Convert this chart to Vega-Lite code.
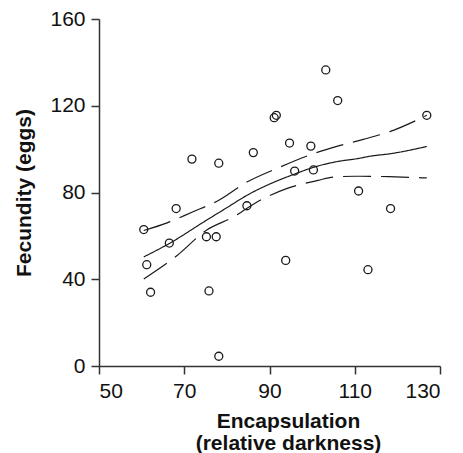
{
  "$schema": "https://vega.github.io/schema/vega-lite/v6.json",
  "autosize": {"type": "none"},
  "width": 341,
  "height": 347,
  "padding": {"left": 99, "top": 19, "right": 23, "bottom": 87},
  "background": "white",
  "config": {
    "view": {"stroke": null},
    "font": "Liberation Sans",
    "axis": {
      "grid": false,
      "domainColor": "#333333",
      "tickColor": "#333333",
      "domainWidth": 1.5,
      "tickWidth": 1.5,
      "tickSize": 8,
      "labelFont": "Liberation Sans",
      "labelFontSize": 21,
      "labelColor": "#111111",
      "titleFont": "Liberation Sans",
      "titleFontSize": 21,
      "titleFontWeight": "bold",
      "titleColor": "#111111"
    }
  },
  "datasets": {
    "points": [
      {"encapsulation": 60.5, "fecundity": 62.9},
      {"encapsulation": 61.2, "fecundity": 46.7},
      {"encapsulation": 62.1, "fecundity": 34.0},
      {"encapsulation": 66.5, "fecundity": 56.7},
      {"encapsulation": 68.1, "fecundity": 72.6},
      {"encapsulation": 71.8, "fecundity": 95.4},
      {"encapsulation": 75.2, "fecundity": 59.6},
      {"encapsulation": 75.8, "fecundity": 34.6},
      {"encapsulation": 77.5, "fecundity": 59.6},
      {"encapsulation": 78.1, "fecundity": 93.5},
      {"encapsulation": 78.1, "fecundity": 4.5},
      {"encapsulation": 84.7, "fecundity": 73.9},
      {"encapsulation": 86.2, "fecundity": 98.4},
      {"encapsulation": 91.1, "fecundity": 114.5},
      {"encapsulation": 91.6, "fecundity": 115.6},
      {"encapsulation": 93.8, "fecundity": 48.7},
      {"encapsulation": 94.7, "fecundity": 102.8},
      {"encapsulation": 95.9, "fecundity": 89.9},
      {"encapsulation": 99.7, "fecundity": 101.4},
      {"encapsulation": 100.3, "fecundity": 90.4},
      {"encapsulation": 103.2, "fecundity": 136.5},
      {"encapsulation": 106.0, "fecundity": 122.4},
      {"encapsulation": 110.9, "fecundity": 80.7},
      {"encapsulation": 113.1, "fecundity": 44.4},
      {"encapsulation": 118.4, "fecundity": 72.6},
      {"encapsulation": 126.9, "fecundity": 115.6}
    ],
    "curves": [
      {"curve": "fit", "encapsulation": 60.5, "fecundity": 50.3},
      {"curve": "fit", "encapsulation": 66.5, "fecundity": 56.5},
      {"curve": "fit", "encapsulation": 75.2, "fecundity": 67.2},
      {"curve": "fit", "encapsulation": 80.0, "fecundity": 73.0},
      {"curve": "fit", "encapsulation": 84.7, "fecundity": 78.7},
      {"curve": "fit", "encapsulation": 91.1, "fecundity": 84.8},
      {"curve": "fit", "encapsulation": 95.9, "fecundity": 88.5},
      {"curve": "fit", "encapsulation": 100.3, "fecundity": 91.6},
      {"curve": "fit", "encapsulation": 106.0, "fecundity": 94.3},
      {"curve": "fit", "encapsulation": 110.9, "fecundity": 95.7},
      {"curve": "fit", "encapsulation": 113.5, "fecundity": 96.7},
      {"curve": "fit", "encapsulation": 118.4, "fecundity": 97.9},
      {"curve": "fit", "encapsulation": 126.9, "fecundity": 101.2},
      {"curve": "upper", "encapsulation": 60.5, "fecundity": 62.5},
      {"curve": "upper", "encapsulation": 66.0, "fecundity": 66.0},
      {"curve": "upper", "encapsulation": 71.8, "fecundity": 70.9},
      {"curve": "upper", "encapsulation": 78.1, "fecundity": 76.4},
      {"curve": "upper", "encapsulation": 84.7, "fecundity": 84.8},
      {"curve": "upper", "encapsulation": 91.6, "fecundity": 91.0},
      {"curve": "upper", "encapsulation": 100.3, "fecundity": 97.9},
      {"curve": "upper", "encapsulation": 106.0, "fecundity": 101.4},
      {"curve": "upper", "encapsulation": 112.0, "fecundity": 104.5},
      {"curve": "upper", "encapsulation": 118.4, "fecundity": 108.2},
      {"curve": "upper", "encapsulation": 126.9, "fecundity": 115.6},
      {"curve": "lower", "encapsulation": 60.5, "fecundity": 40.1},
      {"curve": "lower", "encapsulation": 68.1, "fecundity": 50.6},
      {"curve": "lower", "encapsulation": 75.2, "fecundity": 62.6},
      {"curve": "lower", "encapsulation": 81.5, "fecundity": 68.7},
      {"curve": "lower", "encapsulation": 87.8, "fecundity": 76.4},
      {"curve": "lower", "encapsulation": 94.0, "fecundity": 81.8},
      {"curve": "lower", "encapsulation": 101.4, "fecundity": 85.6},
      {"curve": "lower", "encapsulation": 105.0, "fecundity": 87.1},
      {"curve": "lower", "encapsulation": 110.0, "fecundity": 87.5},
      {"curve": "lower", "encapsulation": 118.0, "fecundity": 87.3},
      {"curve": "lower", "encapsulation": 126.9, "fecundity": 86.7}
    ]
  },
  "encoding": {
    "x": {
      "field": "encapsulation",
      "type": "quantitative",
      "scale": {"domain": [50, 130], "nice": false, "zero": false},
      "axis": {
        "values": [50, 70, 90, 110, 130],
        "title": ["Encapsulation", "(relative darkness)"],
        "titleLineHeight": 22,
        "titleX": 189,
        "titleY": 61,
        "titleAlign": "center",
        "titleBaseline": "alphabetic",
        "labelPadding": 6
      }
    },
    "y": {
      "field": "fecundity",
      "type": "quantitative",
      "scale": {"domain": [0, 160], "nice": false},
      "axis": {
        "values": [0, 40, 80, 120, 160],
        "title": "Fecundity (eggs)",
        "titleX": -75,
        "titleY": 173.5,
        "titleAngle": -90,
        "titleAlign": "center",
        "titleBaseline": "middle",
        "labelPadding": 6
      }
    }
  },
  "layer": [
    {
      "data": {"name": "curves"},
      "mark": {"type": "line", "color": "#1a1a1a", "strokeWidth": 1.2, "interpolate": "monotone"},
      "encoding": {
        "detail": {"field": "curve", "type": "nominal"},
        "strokeDash": {
          "field": "curve",
          "type": "nominal",
          "scale": {"domain": ["fit", "upper", "lower"], "range": [[1, 0], [28, 10], [28, 10]]},
          "legend": null
        }
      }
    },
    {
      "data": {"name": "points"},
      "mark": {"type": "point", "shape": "circle", "filled": false, "color": "#1a1a1a", "size": 64, "strokeWidth": 1.3, "opacity": 1}
    }
  ]
}
